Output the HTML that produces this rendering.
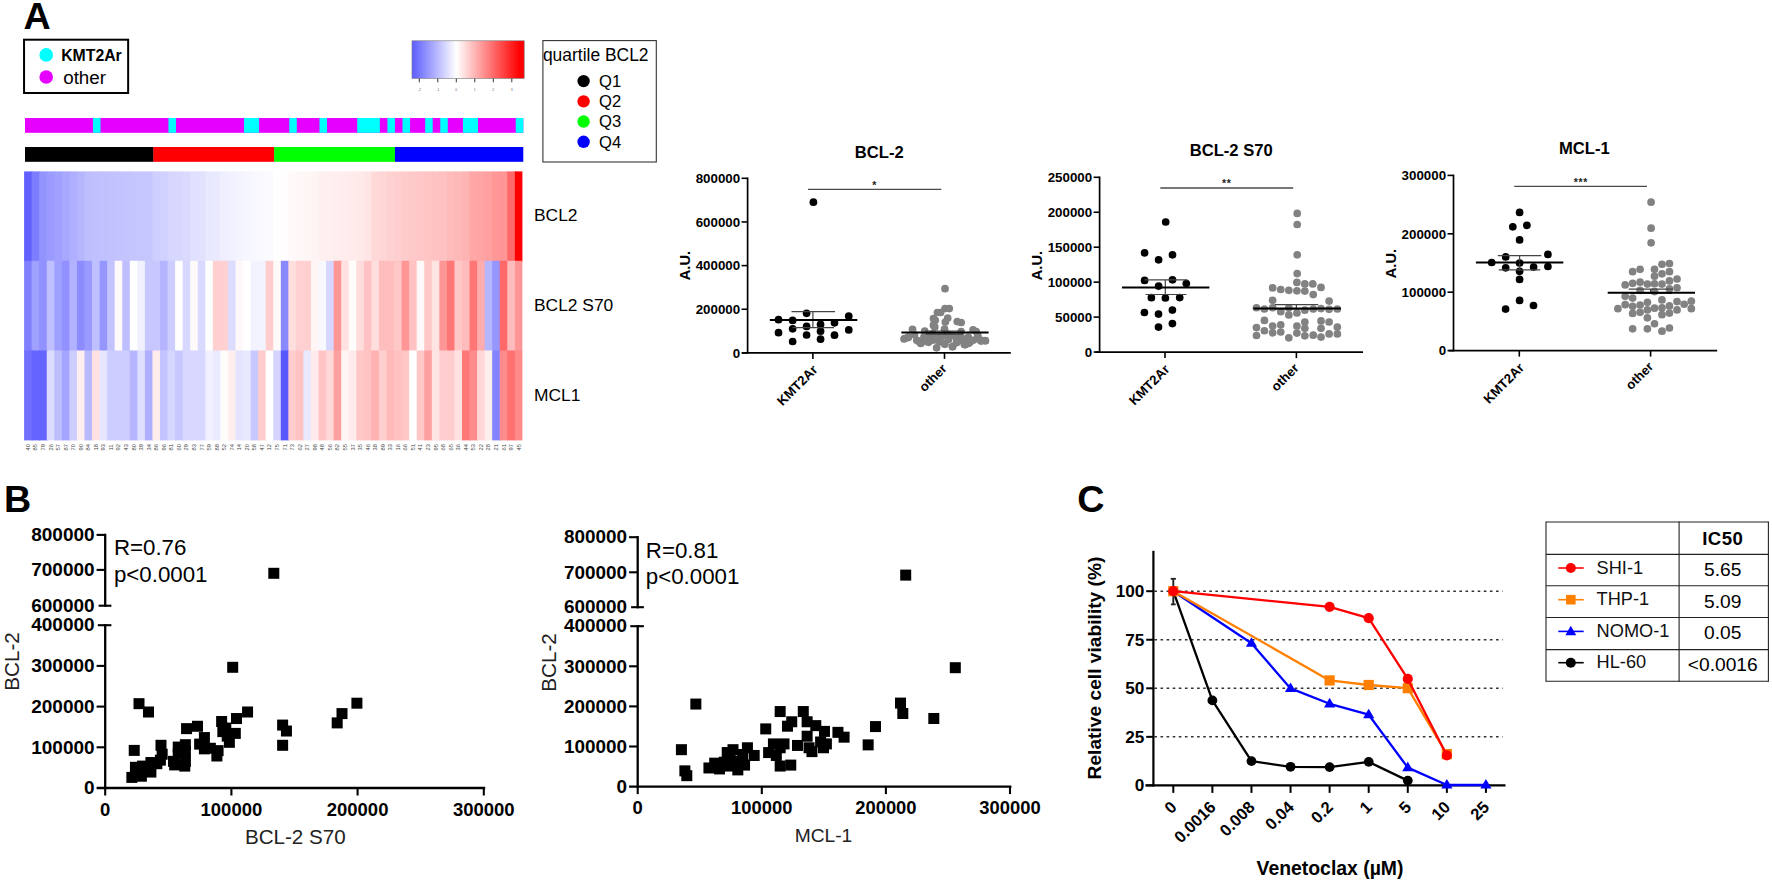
<!DOCTYPE html>
<html lang="en">
<head>
<meta charset="utf-8">
<title>Figure</title>
<style>
html,body{margin:0;padding:0;background:#fff;}
body{width:1772px;height:883px;overflow:hidden;}
svg{display:block;font-family:"Liberation Sans",Arial,Helvetica,sans-serif;fill:#000;}
</style>
</head>
<body>
<svg width="1772" height="883" viewBox="0 0 1772 883">
<rect x="0" y="0" width="1772" height="883" fill="#ffffff"/>
<g id="panelA">
<text x="23.4" y="29.1" font-size="37.7" font-weight="bold">A</text>
<rect x="24.05" y="39.7" width="104.1" height="53.3" fill="none" stroke="#000" stroke-width="2"/>
<circle cx="46.2" cy="54.9" r="6.8" fill="#00ffff"/>
<circle cx="46.2" cy="77" r="6.8" fill="#e600ff"/>
<text x="61.2" y="61.2" font-size="15.8" font-weight="bold">KMT2Ar</text>
<text x="63.2" y="83.8" font-size="18.8">other</text>
<defs><linearGradient id="ck" x1="0" x2="1" y1="0" y2="0"><stop offset="0" stop-color="#5c5cff"/><stop offset="0.395" stop-color="#ffffff"/><stop offset="0.96" stop-color="#ff0000"/><stop offset="1" stop-color="#ff0000"/></linearGradient></defs>
<rect x="412" y="40.8" width="112.2" height="37.6" fill="url(#ck)" stroke="#777" stroke-width="0.6"/>
<line x1="419.3" y1="78.5" x2="419.3" y2="82.3" stroke="#333" stroke-width="1"/>
<text x="419.3" y="91.4" font-size="3.4" text-anchor="middle" fill="#666">-2</text>
<line x1="437.8" y1="78.5" x2="437.8" y2="82.3" stroke="#333" stroke-width="1"/>
<text x="437.8" y="91.4" font-size="3.4" text-anchor="middle" fill="#666">-1</text>
<line x1="456.3" y1="78.5" x2="456.3" y2="82.3" stroke="#333" stroke-width="1"/>
<text x="456.3" y="91.4" font-size="3.4" text-anchor="middle" fill="#666">0</text>
<line x1="474.8" y1="78.5" x2="474.8" y2="82.3" stroke="#333" stroke-width="1"/>
<text x="474.8" y="91.4" font-size="3.4" text-anchor="middle" fill="#666">1</text>
<line x1="493.3" y1="78.5" x2="493.3" y2="82.3" stroke="#333" stroke-width="1"/>
<text x="493.3" y="91.4" font-size="3.4" text-anchor="middle" fill="#666">2</text>
<line x1="511.8" y1="78.5" x2="511.8" y2="82.3" stroke="#333" stroke-width="1"/>
<text x="511.8" y="91.4" font-size="3.4" text-anchor="middle" fill="#666">3</text>
<rect x="542.9" y="40.6" width="113.4" height="121.4" fill="none" stroke="#333" stroke-width="1.1"/>
<text x="542.9" y="61.4" font-size="17.45">quartile BCL2</text>
<circle cx="583.6" cy="81.1" r="6.2" fill="#000"/>
<text x="599" y="86.9" font-size="16.6">Q1</text>
<circle cx="583.6" cy="101.33" r="6.2" fill="#ff0000"/>
<text x="599" y="107.13" font-size="16.6">Q2</text>
<circle cx="583.6" cy="121.56" r="6.2" fill="#00ff00"/>
<text x="599" y="127.36" font-size="16.6">Q3</text>
<circle cx="583.6" cy="141.79" r="6.2" fill="#0000ff"/>
<text x="599" y="147.59" font-size="16.6">Q4</text>
<rect x="25" y="118" width="498.3" height="14.8" fill="#e600ff"/>
<rect x="92.95" y="118" width="7.55" height="14.8" fill="#00ffff"/>
<rect x="168.45" y="118" width="7.55" height="14.8" fill="#00ffff"/>
<rect x="243.95" y="118" width="15.1" height="14.8" fill="#00ffff"/>
<rect x="289.25" y="118" width="7.55" height="14.8" fill="#00ffff"/>
<rect x="319.45" y="118" width="7.55" height="14.8" fill="#00ffff"/>
<rect x="357.2" y="118" width="22.65" height="14.8" fill="#00ffff"/>
<rect x="387.4" y="118" width="7.55" height="14.8" fill="#00ffff"/>
<rect x="402.5" y="118" width="7.55" height="14.8" fill="#00ffff"/>
<rect x="425.15" y="118" width="7.55" height="14.8" fill="#00ffff"/>
<rect x="440.25" y="118" width="7.55" height="14.8" fill="#00ffff"/>
<rect x="462.9" y="118" width="15.1" height="14.8" fill="#00ffff"/>
<rect x="515.75" y="118" width="7.55" height="14.8" fill="#00ffff"/>
<rect x="25" y="147" width="128.65" height="14.8" fill="#000"/>
<rect x="153.35" y="147" width="121.1" height="14.8" fill="#ff0000"/>
<rect x="274.15" y="147" width="121.1" height="14.8" fill="#00ff00"/>
<rect x="394.95" y="147" width="128.35" height="14.8" fill="#0000ff"/>
<g>
<rect x="24.1" y="171.4" width="8.55" height="90.4" fill="#6060ff"/>
<rect x="31.65" y="171.4" width="8.55" height="90.4" fill="#7d7dff"/>
<rect x="39.2" y="171.4" width="8.55" height="90.4" fill="#9494ff"/>
<rect x="46.75" y="171.4" width="8.55" height="90.4" fill="#9b9bff"/>
<rect x="54.3" y="171.4" width="8.55" height="90.4" fill="#a0a0ff"/>
<rect x="61.85" y="171.4" width="8.55" height="90.4" fill="#a8a8ff"/>
<rect x="69.4" y="171.4" width="8.55" height="90.4" fill="#afafff"/>
<rect x="76.95" y="171.4" width="8.55" height="90.4" fill="#b6b6ff"/>
<rect x="84.5" y="171.4" width="8.55" height="90.4" fill="#bebeff"/>
<rect x="92.05" y="171.4" width="8.55" height="90.4" fill="#c0c0ff"/>
<rect x="99.6" y="171.4" width="8.55" height="90.4" fill="#c1c1ff"/>
<rect x="107.15" y="171.4" width="8.55" height="90.4" fill="#c2c2ff"/>
<rect x="114.7" y="171.4" width="8.55" height="90.4" fill="#c3c3ff"/>
<rect x="122.25" y="171.4" width="8.55" height="90.4" fill="#c4c4ff"/>
<rect x="129.8" y="171.4" width="8.55" height="90.4" fill="#c5c5ff"/>
<rect x="137.35" y="171.4" width="8.55" height="90.4" fill="#c6c6ff"/>
<rect x="144.9" y="171.4" width="8.55" height="90.4" fill="#c7c7ff"/>
<rect x="152.45" y="171.4" width="8.55" height="90.4" fill="#cfcfff"/>
<rect x="160" y="171.4" width="8.55" height="90.4" fill="#d1d1ff"/>
<rect x="167.55" y="171.4" width="8.55" height="90.4" fill="#d6d6ff"/>
<rect x="175.1" y="171.4" width="8.55" height="90.4" fill="#d8d8ff"/>
<rect x="182.65" y="171.4" width="8.55" height="90.4" fill="#dadaff"/>
<rect x="190.2" y="171.4" width="8.55" height="90.4" fill="#e0e0ff"/>
<rect x="197.75" y="171.4" width="8.55" height="90.4" fill="#e2e2ff"/>
<rect x="205.3" y="171.4" width="8.55" height="90.4" fill="#e8e8ff"/>
<rect x="212.85" y="171.4" width="8.55" height="90.4" fill="#eaeaff"/>
<rect x="220.4" y="171.4" width="8.55" height="90.4" fill="#efefff"/>
<rect x="227.95" y="171.4" width="8.55" height="90.4" fill="#f1f1ff"/>
<rect x="235.5" y="171.4" width="8.55" height="90.4" fill="#f4f4ff"/>
<rect x="243.05" y="171.4" width="8.55" height="90.4" fill="#f6f6ff"/>
<rect x="250.6" y="171.4" width="8.55" height="90.4" fill="#f8f8ff"/>
<rect x="258.15" y="171.4" width="8.55" height="90.4" fill="#f9f9ff"/>
<rect x="265.7" y="171.4" width="8.55" height="90.4" fill="#fafaff"/>
<rect x="273.25" y="171.4" width="8.55" height="90.4" fill="#ffffff"/>
<rect x="280.8" y="171.4" width="8.55" height="90.4" fill="#fffdfd"/>
<rect x="288.35" y="171.4" width="8.55" height="90.4" fill="#fffafa"/>
<rect x="295.9" y="171.4" width="8.55" height="90.4" fill="#fff8f8"/>
<rect x="303.45" y="171.4" width="8.55" height="90.4" fill="#fff6f6"/>
<rect x="311" y="171.4" width="8.55" height="90.4" fill="#fff4f4"/>
<rect x="318.55" y="171.4" width="8.55" height="90.4" fill="#fff0f0"/>
<rect x="326.1" y="171.4" width="8.55" height="90.4" fill="#ffefef"/>
<rect x="333.65" y="171.4" width="8.55" height="90.4" fill="#ffeeee"/>
<rect x="341.2" y="171.4" width="8.55" height="90.4" fill="#ffecec"/>
<rect x="348.75" y="171.4" width="8.55" height="90.4" fill="#ffebeb"/>
<rect x="356.3" y="171.4" width="8.55" height="90.4" fill="#ffeaea"/>
<rect x="363.85" y="171.4" width="8.55" height="90.4" fill="#ffe6e6"/>
<rect x="371.4" y="171.4" width="8.55" height="90.4" fill="#ffd8d8"/>
<rect x="378.95" y="171.4" width="8.55" height="90.4" fill="#ffd6d6"/>
<rect x="386.5" y="171.4" width="8.55" height="90.4" fill="#ffd2d2"/>
<rect x="394.05" y="171.4" width="8.55" height="90.4" fill="#ffcece"/>
<rect x="401.6" y="171.4" width="8.55" height="90.4" fill="#ffcccc"/>
<rect x="409.15" y="171.4" width="8.55" height="90.4" fill="#ffc9c9"/>
<rect x="416.7" y="171.4" width="8.55" height="90.4" fill="#ffc7c7"/>
<rect x="424.25" y="171.4" width="8.55" height="90.4" fill="#ffc4c4"/>
<rect x="431.8" y="171.4" width="8.55" height="90.4" fill="#ffc3c3"/>
<rect x="439.35" y="171.4" width="8.55" height="90.4" fill="#ffc1c1"/>
<rect x="446.9" y="171.4" width="8.55" height="90.4" fill="#ffbaba"/>
<rect x="454.45" y="171.4" width="8.55" height="90.4" fill="#ffb8b8"/>
<rect x="462" y="171.4" width="8.55" height="90.4" fill="#ffb4b4"/>
<rect x="469.55" y="171.4" width="8.55" height="90.4" fill="#ffa6a6"/>
<rect x="477.1" y="171.4" width="8.55" height="90.4" fill="#ffa4a4"/>
<rect x="484.65" y="171.4" width="8.55" height="90.4" fill="#ffa0a0"/>
<rect x="492.2" y="171.4" width="8.55" height="90.4" fill="#ff9797"/>
<rect x="499.75" y="171.4" width="8.55" height="90.4" fill="#ff9595"/>
<rect x="507.3" y="171.4" width="8.55" height="90.4" fill="#ff6969"/>
<rect x="514.85" y="171.4" width="7.55" height="90.4" fill="#ff0000"/>
<rect x="24.1" y="260.8" width="8.55" height="90.7" fill="#8080ff"/>
<rect x="31.65" y="260.8" width="8.55" height="90.7" fill="#a0a0ff"/>
<rect x="39.2" y="260.8" width="8.55" height="90.7" fill="#9191ff"/>
<rect x="46.75" y="260.8" width="8.55" height="90.7" fill="#c0c0ff"/>
<rect x="54.3" y="260.8" width="8.55" height="90.7" fill="#a0a0ff"/>
<rect x="61.85" y="260.8" width="8.55" height="90.7" fill="#9191ff"/>
<rect x="69.4" y="260.8" width="8.55" height="90.7" fill="#b2b2ff"/>
<rect x="76.95" y="260.8" width="8.55" height="90.7" fill="#8c8cff"/>
<rect x="84.5" y="260.8" width="8.55" height="90.7" fill="#9b9bff"/>
<rect x="92.05" y="260.8" width="8.55" height="90.7" fill="#c0c0ff"/>
<rect x="99.6" y="260.8" width="8.55" height="90.7" fill="#9696ff"/>
<rect x="107.15" y="260.8" width="8.55" height="90.7" fill="#c3c3ff"/>
<rect x="114.7" y="260.8" width="8.55" height="90.7" fill="#fffafa"/>
<rect x="122.25" y="260.8" width="8.55" height="90.7" fill="#bebeff"/>
<rect x="129.8" y="260.8" width="8.55" height="90.7" fill="#ffffff"/>
<rect x="137.35" y="260.8" width="8.55" height="90.7" fill="#f0f0ff"/>
<rect x="144.9" y="260.8" width="8.55" height="90.7" fill="#c8c8ff"/>
<rect x="152.45" y="260.8" width="8.55" height="90.7" fill="#c8c8ff"/>
<rect x="160" y="260.8" width="8.55" height="90.7" fill="#b4b4ff"/>
<rect x="167.55" y="260.8" width="8.55" height="90.7" fill="#cdcdff"/>
<rect x="175.1" y="260.8" width="8.55" height="90.7" fill="#ffffff"/>
<rect x="182.65" y="260.8" width="8.55" height="90.7" fill="#d7d7ff"/>
<rect x="190.2" y="260.8" width="8.55" height="90.7" fill="#fffafa"/>
<rect x="197.75" y="260.8" width="8.55" height="90.7" fill="#dadaff"/>
<rect x="205.3" y="260.8" width="8.55" height="90.7" fill="#ffffff"/>
<rect x="212.85" y="260.8" width="8.55" height="90.7" fill="#ffd0d0"/>
<rect x="220.4" y="260.8" width="8.55" height="90.7" fill="#ffd0d0"/>
<rect x="227.95" y="260.8" width="8.55" height="90.7" fill="#dcdcff"/>
<rect x="235.5" y="260.8" width="8.55" height="90.7" fill="#fff8f8"/>
<rect x="243.05" y="260.8" width="8.55" height="90.7" fill="#ffffff"/>
<rect x="250.6" y="260.8" width="8.55" height="90.7" fill="#f3f3ff"/>
<rect x="258.15" y="260.8" width="8.55" height="90.7" fill="#f3f3ff"/>
<rect x="265.7" y="260.8" width="8.55" height="90.7" fill="#ffcdcd"/>
<rect x="273.25" y="260.8" width="8.55" height="90.7" fill="#fffafa"/>
<rect x="280.8" y="260.8" width="8.55" height="90.7" fill="#8888ff"/>
<rect x="288.35" y="260.8" width="8.55" height="90.7" fill="#ffdede"/>
<rect x="295.9" y="260.8" width="8.55" height="90.7" fill="#ffd0d0"/>
<rect x="303.45" y="260.8" width="8.55" height="90.7" fill="#ffd0d0"/>
<rect x="311" y="260.8" width="8.55" height="90.7" fill="#fff5f5"/>
<rect x="318.55" y="260.8" width="8.55" height="90.7" fill="#f8f8ff"/>
<rect x="326.1" y="260.8" width="8.55" height="90.7" fill="#d6d6ff"/>
<rect x="333.65" y="260.8" width="8.55" height="90.7" fill="#ff9696"/>
<rect x="341.2" y="260.8" width="8.55" height="90.7" fill="#ffe1e1"/>
<rect x="348.75" y="260.8" width="8.55" height="90.7" fill="#fffcfc"/>
<rect x="356.3" y="260.8" width="8.55" height="90.7" fill="#ffdddd"/>
<rect x="363.85" y="260.8" width="8.55" height="90.7" fill="#ffc3c3"/>
<rect x="371.4" y="260.8" width="8.55" height="90.7" fill="#ffdede"/>
<rect x="378.95" y="260.8" width="8.55" height="90.7" fill="#ffbebe"/>
<rect x="386.5" y="260.8" width="8.55" height="90.7" fill="#ffbebe"/>
<rect x="394.05" y="260.8" width="8.55" height="90.7" fill="#ffc8c8"/>
<rect x="401.6" y="260.8" width="8.55" height="90.7" fill="#ff9696"/>
<rect x="409.15" y="260.8" width="8.55" height="90.7" fill="#ffc3c3"/>
<rect x="416.7" y="260.8" width="8.55" height="90.7" fill="#fffafa"/>
<rect x="424.25" y="260.8" width="8.55" height="90.7" fill="#ffc8c8"/>
<rect x="431.8" y="260.8" width="8.55" height="90.7" fill="#ffe4e4"/>
<rect x="439.35" y="260.8" width="8.55" height="90.7" fill="#ff9696"/>
<rect x="446.9" y="260.8" width="8.55" height="90.7" fill="#ff7676"/>
<rect x="454.45" y="260.8" width="8.55" height="90.7" fill="#ffc8c8"/>
<rect x="462" y="260.8" width="8.55" height="90.7" fill="#ffbcbc"/>
<rect x="469.55" y="260.8" width="8.55" height="90.7" fill="#ff7676"/>
<rect x="477.1" y="260.8" width="8.55" height="90.7" fill="#ffacac"/>
<rect x="484.65" y="260.8" width="8.55" height="90.7" fill="#b6b6ff"/>
<rect x="492.2" y="260.8" width="8.55" height="90.7" fill="#9696ff"/>
<rect x="499.75" y="260.8" width="8.55" height="90.7" fill="#ff6969"/>
<rect x="507.3" y="260.8" width="8.55" height="90.7" fill="#ffbcbc"/>
<rect x="514.85" y="260.8" width="7.55" height="90.7" fill="#ff9696"/>
<rect x="24.1" y="350.5" width="8.55" height="89.9" fill="#7070ff"/>
<rect x="31.65" y="350.5" width="8.55" height="89.9" fill="#6464ff"/>
<rect x="39.2" y="350.5" width="8.55" height="89.9" fill="#6464ff"/>
<rect x="46.75" y="350.5" width="8.55" height="89.9" fill="#dcdcff"/>
<rect x="54.3" y="350.5" width="8.55" height="89.9" fill="#bebeff"/>
<rect x="61.85" y="350.5" width="8.55" height="89.9" fill="#a5a5ff"/>
<rect x="69.4" y="350.5" width="8.55" height="89.9" fill="#cdcdff"/>
<rect x="76.95" y="350.5" width="8.55" height="89.9" fill="#ffeeee"/>
<rect x="84.5" y="350.5" width="8.55" height="89.9" fill="#b9b9ff"/>
<rect x="92.05" y="350.5" width="8.55" height="89.9" fill="#ffe1e1"/>
<rect x="99.6" y="350.5" width="8.55" height="89.9" fill="#e6e6ff"/>
<rect x="107.15" y="350.5" width="8.55" height="89.9" fill="#cdcdff"/>
<rect x="114.7" y="350.5" width="8.55" height="89.9" fill="#cdcdff"/>
<rect x="122.25" y="350.5" width="8.55" height="89.9" fill="#cdcdff"/>
<rect x="129.8" y="350.5" width="8.55" height="89.9" fill="#b6b6ff"/>
<rect x="137.35" y="350.5" width="8.55" height="89.9" fill="#dedeff"/>
<rect x="144.9" y="350.5" width="8.55" height="89.9" fill="#afafff"/>
<rect x="152.45" y="350.5" width="8.55" height="89.9" fill="#ffebeb"/>
<rect x="160" y="350.5" width="8.55" height="89.9" fill="#c3c3ff"/>
<rect x="167.55" y="350.5" width="8.55" height="89.9" fill="#d7d7ff"/>
<rect x="175.1" y="350.5" width="8.55" height="89.9" fill="#c8c8ff"/>
<rect x="182.65" y="350.5" width="8.55" height="89.9" fill="#d7d7ff"/>
<rect x="190.2" y="350.5" width="8.55" height="89.9" fill="#d7d7ff"/>
<rect x="197.75" y="350.5" width="8.55" height="89.9" fill="#d7d7ff"/>
<rect x="205.3" y="350.5" width="8.55" height="89.9" fill="#f0f0ff"/>
<rect x="212.85" y="350.5" width="8.55" height="89.9" fill="#ebebff"/>
<rect x="220.4" y="350.5" width="8.55" height="89.9" fill="#fffcfc"/>
<rect x="227.95" y="350.5" width="8.55" height="89.9" fill="#ffeeee"/>
<rect x="235.5" y="350.5" width="8.55" height="89.9" fill="#e4e4ff"/>
<rect x="243.05" y="350.5" width="8.55" height="89.9" fill="#e8e8ff"/>
<rect x="250.6" y="350.5" width="8.55" height="89.9" fill="#c8c8ff"/>
<rect x="258.15" y="350.5" width="8.55" height="89.9" fill="#ffcdcd"/>
<rect x="265.7" y="350.5" width="8.55" height="89.9" fill="#ffffff"/>
<rect x="273.25" y="350.5" width="8.55" height="89.9" fill="#d4d4ff"/>
<rect x="280.8" y="350.5" width="8.55" height="89.9" fill="#5858ff"/>
<rect x="288.35" y="350.5" width="8.55" height="89.9" fill="#ffcdcd"/>
<rect x="295.9" y="350.5" width="8.55" height="89.9" fill="#ffc3c3"/>
<rect x="303.45" y="350.5" width="8.55" height="89.9" fill="#e8e8ff"/>
<rect x="311" y="350.5" width="8.55" height="89.9" fill="#ffebeb"/>
<rect x="318.55" y="350.5" width="8.55" height="89.9" fill="#ffc3c3"/>
<rect x="326.1" y="350.5" width="8.55" height="89.9" fill="#ffd7d7"/>
<rect x="333.65" y="350.5" width="8.55" height="89.9" fill="#ffa0a0"/>
<rect x="341.2" y="350.5" width="8.55" height="89.9" fill="#fff5f5"/>
<rect x="348.75" y="350.5" width="8.55" height="89.9" fill="#ffebeb"/>
<rect x="356.3" y="350.5" width="8.55" height="89.9" fill="#ffc7c7"/>
<rect x="363.85" y="350.5" width="8.55" height="89.9" fill="#ffc3c3"/>
<rect x="371.4" y="350.5" width="8.55" height="89.9" fill="#ffb2b2"/>
<rect x="378.95" y="350.5" width="8.55" height="89.9" fill="#ffcece"/>
<rect x="386.5" y="350.5" width="8.55" height="89.9" fill="#ffb9b9"/>
<rect x="394.05" y="350.5" width="8.55" height="89.9" fill="#ffc0c0"/>
<rect x="401.6" y="350.5" width="8.55" height="89.9" fill="#ffc6c6"/>
<rect x="409.15" y="350.5" width="8.55" height="89.9" fill="#ffffff"/>
<rect x="416.7" y="350.5" width="8.55" height="89.9" fill="#ffc8c8"/>
<rect x="424.25" y="350.5" width="8.55" height="89.9" fill="#ffa0a0"/>
<rect x="431.8" y="350.5" width="8.55" height="89.9" fill="#ffe4e4"/>
<rect x="439.35" y="350.5" width="8.55" height="89.9" fill="#ffcdcd"/>
<rect x="446.9" y="350.5" width="8.55" height="89.9" fill="#ffcdcd"/>
<rect x="454.45" y="350.5" width="8.55" height="89.9" fill="#ffe1e1"/>
<rect x="462" y="350.5" width="8.55" height="89.9" fill="#ff7878"/>
<rect x="469.55" y="350.5" width="8.55" height="89.9" fill="#ff8c8c"/>
<rect x="477.1" y="350.5" width="8.55" height="89.9" fill="#ffd7d7"/>
<rect x="484.65" y="350.5" width="8.55" height="89.9" fill="#ffeeee"/>
<rect x="492.2" y="350.5" width="8.55" height="89.9" fill="#8484ff"/>
<rect x="499.75" y="350.5" width="8.55" height="89.9" fill="#ff8c8c"/>
<rect x="507.3" y="350.5" width="8.55" height="89.9" fill="#ff7070"/>
<rect x="514.85" y="350.5" width="7.55" height="89.9" fill="#ff8a8a"/>
</g>
<text x="534" y="220.7" font-size="17.4">BCL2</text>
<text x="534" y="311.2" font-size="17.4">BCL2 S70</text>
<text x="534" y="401.1" font-size="17.4">MCL1</text>
<text transform="translate(29.88 450.5) rotate(-90)" font-size="5.7" fill="#444">40</text>
<text transform="translate(37.43 450.5) rotate(-90)" font-size="5.7" fill="#444">85</text>
<text transform="translate(44.98 450.5) rotate(-90)" font-size="5.7" fill="#444">79</text>
<text transform="translate(52.52 450.5) rotate(-90)" font-size="5.7" fill="#444">26</text>
<text transform="translate(60.07 450.5) rotate(-90)" font-size="5.7" fill="#444">57</text>
<text transform="translate(67.62 450.5) rotate(-90)" font-size="5.7" fill="#444">87</text>
<text transform="translate(75.18 450.5) rotate(-90)" font-size="5.7" fill="#444">70</text>
<text transform="translate(82.73 450.5) rotate(-90)" font-size="5.7" fill="#444">90</text>
<text transform="translate(90.28 450.5) rotate(-90)" font-size="5.7" fill="#444">84</text>
<text transform="translate(97.83 450.5) rotate(-90)" font-size="5.7" fill="#444">18</text>
<text transform="translate(105.38 450.5) rotate(-90)" font-size="5.7" fill="#444">93</text>
<text transform="translate(112.93 450.5) rotate(-90)" font-size="5.7" fill="#444">11</text>
<text transform="translate(120.47 450.5) rotate(-90)" font-size="5.7" fill="#444">92</text>
<text transform="translate(128.03 450.5) rotate(-90)" font-size="5.7" fill="#444">43</text>
<text transform="translate(135.58 450.5) rotate(-90)" font-size="5.7" fill="#444">80</text>
<text transform="translate(143.12 450.5) rotate(-90)" font-size="5.7" fill="#444">39</text>
<text transform="translate(150.68 450.5) rotate(-90)" font-size="5.7" fill="#444">34</text>
<text transform="translate(158.22 450.5) rotate(-90)" font-size="5.7" fill="#444">86</text>
<text transform="translate(165.78 450.5) rotate(-90)" font-size="5.7" fill="#444">96</text>
<text transform="translate(173.32 450.5) rotate(-90)" font-size="5.7" fill="#444">81</text>
<text transform="translate(180.88 450.5) rotate(-90)" font-size="5.7" fill="#444">60</text>
<text transform="translate(188.42 450.5) rotate(-90)" font-size="5.7" fill="#444">29</text>
<text transform="translate(195.97 450.5) rotate(-90)" font-size="5.7" fill="#444">83</text>
<text transform="translate(203.53 450.5) rotate(-90)" font-size="5.7" fill="#444">77</text>
<text transform="translate(211.07 450.5) rotate(-90)" font-size="5.7" fill="#444">59</text>
<text transform="translate(218.62 450.5) rotate(-90)" font-size="5.7" fill="#444">88</text>
<text transform="translate(226.17 450.5) rotate(-90)" font-size="5.7" fill="#444">52</text>
<text transform="translate(233.72 450.5) rotate(-90)" font-size="5.7" fill="#444">74</text>
<text transform="translate(241.28 450.5) rotate(-90)" font-size="5.7" fill="#444">14</text>
<text transform="translate(248.82 450.5) rotate(-90)" font-size="5.7" fill="#444">20</text>
<text transform="translate(256.38 450.5) rotate(-90)" font-size="5.7" fill="#444">58</text>
<text transform="translate(263.92 450.5) rotate(-90)" font-size="5.7" fill="#444">47</text>
<text transform="translate(271.47 450.5) rotate(-90)" font-size="5.7" fill="#444">12</text>
<text transform="translate(279.02 450.5) rotate(-90)" font-size="5.7" fill="#444">75</text>
<text transform="translate(286.57 450.5) rotate(-90)" font-size="5.7" fill="#444">71</text>
<text transform="translate(294.12 450.5) rotate(-90)" font-size="5.7" fill="#444">73</text>
<text transform="translate(301.68 450.5) rotate(-90)" font-size="5.7" fill="#444">62</text>
<text transform="translate(309.22 450.5) rotate(-90)" font-size="5.7" fill="#444">27</text>
<text transform="translate(316.77 450.5) rotate(-90)" font-size="5.7" fill="#444">98</text>
<text transform="translate(324.32 450.5) rotate(-90)" font-size="5.7" fill="#444">48</text>
<text transform="translate(331.88 450.5) rotate(-90)" font-size="5.7" fill="#444">56</text>
<text transform="translate(339.43 450.5) rotate(-90)" font-size="5.7" fill="#444">82</text>
<text transform="translate(346.97 450.5) rotate(-90)" font-size="5.7" fill="#444">55</text>
<text transform="translate(354.52 450.5) rotate(-90)" font-size="5.7" fill="#444">37</text>
<text transform="translate(362.07 450.5) rotate(-90)" font-size="5.7" fill="#444">35</text>
<text transform="translate(369.62 450.5) rotate(-90)" font-size="5.7" fill="#444">46</text>
<text transform="translate(377.18 450.5) rotate(-90)" font-size="5.7" fill="#444">38</text>
<text transform="translate(384.72 450.5) rotate(-90)" font-size="5.7" fill="#444">89</text>
<text transform="translate(392.27 450.5) rotate(-90)" font-size="5.7" fill="#444">33</text>
<text transform="translate(399.82 450.5) rotate(-90)" font-size="5.7" fill="#444">16</text>
<text transform="translate(407.38 450.5) rotate(-90)" font-size="5.7" fill="#444">66</text>
<text transform="translate(414.93 450.5) rotate(-90)" font-size="5.7" fill="#444">51</text>
<text transform="translate(422.47 450.5) rotate(-90)" font-size="5.7" fill="#444">41</text>
<text transform="translate(430.02 450.5) rotate(-90)" font-size="5.7" fill="#444">23</text>
<text transform="translate(437.57 450.5) rotate(-90)" font-size="5.7" fill="#444">95</text>
<text transform="translate(445.12 450.5) rotate(-90)" font-size="5.7" fill="#444">68</text>
<text transform="translate(452.68 450.5) rotate(-90)" font-size="5.7" fill="#444">65</text>
<text transform="translate(460.22 450.5) rotate(-90)" font-size="5.7" fill="#444">36</text>
<text transform="translate(467.77 450.5) rotate(-90)" font-size="5.7" fill="#444">44</text>
<text transform="translate(475.32 450.5) rotate(-90)" font-size="5.7" fill="#444">53</text>
<text transform="translate(482.88 450.5) rotate(-90)" font-size="5.7" fill="#444">22</text>
<text transform="translate(490.43 450.5) rotate(-90)" font-size="5.7" fill="#444">28</text>
<text transform="translate(497.97 450.5) rotate(-90)" font-size="5.7" fill="#444">21</text>
<text transform="translate(505.52 450.5) rotate(-90)" font-size="5.7" fill="#444">61</text>
<text transform="translate(513.08 450.5) rotate(-90)" font-size="5.7" fill="#444">97</text>
<text transform="translate(520.62 450.5) rotate(-90)" font-size="5.7" fill="#444">45</text>
</g>
<g id="dots">
<line x1="747.6" y1="177.5" x2="747.6" y2="353.7" stroke="#000" stroke-width="1.7"/>
<line x1="741.9" y1="352.9" x2="1010.8" y2="352.9" stroke="#000" stroke-width="1.7"/>
<line x1="741.6" y1="178.3" x2="747.6" y2="178.3" stroke="#000" stroke-width="1.6"/>
<text x="740.2" y="183.05" font-size="13.35" font-weight="bold" text-anchor="end">800000</text>
<line x1="741.6" y1="221.95" x2="747.6" y2="221.95" stroke="#000" stroke-width="1.6"/>
<text x="740.2" y="226.7" font-size="13.35" font-weight="bold" text-anchor="end">600000</text>
<line x1="741.6" y1="265.6" x2="747.6" y2="265.6" stroke="#000" stroke-width="1.6"/>
<text x="740.2" y="270.35" font-size="13.35" font-weight="bold" text-anchor="end">400000</text>
<line x1="741.6" y1="309.25" x2="747.6" y2="309.25" stroke="#000" stroke-width="1.6"/>
<text x="740.2" y="314" font-size="13.35" font-weight="bold" text-anchor="end">200000</text>
<line x1="741.6" y1="352.9" x2="747.6" y2="352.9" stroke="#000" stroke-width="1.6"/>
<text x="740.2" y="357.65" font-size="13.35" font-weight="bold" text-anchor="end">0</text>
<line x1="812.9" y1="352.9" x2="812.9" y2="358.9" stroke="#000" stroke-width="1.6"/>
<line x1="944.5" y1="352.9" x2="944.5" y2="358.9" stroke="#000" stroke-width="1.6"/>
<text x="879.3" y="157.5" font-size="16.6" font-weight="bold" text-anchor="middle">BCL-2</text>
<text transform="translate(690.3 265.6) rotate(-90)" font-size="14.7" font-weight="bold" text-anchor="middle">A.U.</text>
<line x1="808" y1="189.3" x2="941.3" y2="189.3" stroke="#4a4a4a" stroke-width="1.3"/>
<text x="874.6" y="188.5" font-size="10.5" font-weight="bold" text-anchor="middle" fill="#222" letter-spacing="0.6">*</text>
<circle cx="945.01" cy="288.72" r="3.85" fill="#828282"/>
<circle cx="945.01" cy="308.54" r="3.85" fill="#828282"/>
<circle cx="949.29" cy="308.54" r="3.85" fill="#828282"/>
<circle cx="937.4" cy="312.5" r="3.85" fill="#828282"/>
<circle cx="940.57" cy="312.5" r="3.85" fill="#828282"/>
<circle cx="933.44" cy="318.53" r="3.85" fill="#828282"/>
<circle cx="947.71" cy="318.05" r="3.85" fill="#828282"/>
<circle cx="945.33" cy="322.02" r="3.85" fill="#828282"/>
<circle cx="957.22" cy="321.54" r="3.85" fill="#828282"/>
<circle cx="961.18" cy="322.49" r="3.85" fill="#828282"/>
<circle cx="933.44" cy="325.19" r="3.85" fill="#828282"/>
<circle cx="912.51" cy="329.47" r="3.85" fill="#828282"/>
<circle cx="924.72" cy="331.05" r="3.85" fill="#828282"/>
<circle cx="944.53" cy="329.15" r="3.85" fill="#828282"/>
<circle cx="961.18" cy="331.53" r="3.85" fill="#828282"/>
<circle cx="973.07" cy="329.94" r="3.85" fill="#828282"/>
<circle cx="976.25" cy="331.53" r="3.85" fill="#828282"/>
<circle cx="904.1" cy="338.98" r="3.85" fill="#828282"/>
<circle cx="908.07" cy="337.08" r="3.85" fill="#828282"/>
<circle cx="916.79" cy="340.25" r="3.85" fill="#828282"/>
<circle cx="920.75" cy="343.42" r="3.85" fill="#828282"/>
<circle cx="924.72" cy="341.04" r="3.85" fill="#828282"/>
<circle cx="928.68" cy="336.29" r="3.85" fill="#828282"/>
<circle cx="932.64" cy="340.25" r="3.85" fill="#828282"/>
<circle cx="936.61" cy="347.86" r="3.85" fill="#828282"/>
<circle cx="936.61" cy="337.87" r="3.85" fill="#828282"/>
<circle cx="940.57" cy="341.84" r="3.85" fill="#828282"/>
<circle cx="944.53" cy="343.42" r="3.85" fill="#828282"/>
<circle cx="944.53" cy="335.49" r="3.85" fill="#828282"/>
<circle cx="948.5" cy="339.46" r="3.85" fill="#828282"/>
<circle cx="952.46" cy="346.59" r="3.85" fill="#828282"/>
<circle cx="952.46" cy="335.49" r="3.85" fill="#828282"/>
<circle cx="956.43" cy="342.63" r="3.85" fill="#828282"/>
<circle cx="960.39" cy="340.25" r="3.85" fill="#828282"/>
<circle cx="960.39" cy="335.49" r="3.85" fill="#828282"/>
<circle cx="964.35" cy="344.21" r="3.85" fill="#828282"/>
<circle cx="968.32" cy="343.42" r="3.85" fill="#828282"/>
<circle cx="968.32" cy="337.08" r="3.85" fill="#828282"/>
<circle cx="973.07" cy="340.25" r="3.85" fill="#828282"/>
<circle cx="977.04" cy="338.66" r="3.85" fill="#828282"/>
<circle cx="981" cy="341.04" r="3.85" fill="#828282"/>
<circle cx="985.44" cy="340.73" r="3.85" fill="#828282"/>
<circle cx="977.83" cy="335.49" r="3.85" fill="#828282"/>
<circle cx="914.41" cy="334.7" r="3.85" fill="#828282"/>
<circle cx="932.64" cy="333.91" r="3.85" fill="#828282"/>
<circle cx="948.5" cy="334.7" r="3.85" fill="#828282"/>
<circle cx="923.92" cy="337.08" r="3.85" fill="#828282"/>
<circle cx="965.15" cy="338.98" r="3.85" fill="#828282"/>
<circle cx="956.43" cy="337.87" r="3.85" fill="#828282"/>
<circle cx="940.57" cy="335.81" r="3.85" fill="#828282"/>
<circle cx="935.24" cy="320.24" r="3.85" fill="#828282"/>
<circle cx="934.75" cy="326.97" r="3.85" fill="#828282"/>
<circle cx="918.87" cy="341.41" r="3.85" fill="#828282"/>
<circle cx="928.5" cy="342.37" r="3.85" fill="#828282"/>
<circle cx="944.86" cy="344.3" r="3.85" fill="#828282"/>
<circle cx="952.56" cy="346.7" r="3.85" fill="#828282"/>
<circle cx="965.07" cy="344.78" r="3.85" fill="#828282"/>
<circle cx="969.88" cy="342.37" r="3.85" fill="#828282"/>
<circle cx="981.43" cy="340.45" r="3.85" fill="#828282"/>
<circle cx="985.28" cy="340.64" r="3.85" fill="#828282"/>
<circle cx="904.44" cy="338.52" r="3.85" fill="#828282"/>
<circle cx="908.29" cy="337.56" r="3.85" fill="#828282"/>
<circle cx="957.37" cy="341.41" r="3.85" fill="#828282"/>
<circle cx="938.12" cy="340.45" r="3.85" fill="#828282"/>
<line x1="925" y1="331" x2="964" y2="331" stroke="#444" stroke-width="1.2"/>
<line x1="926" y1="334.2" x2="963" y2="334.2" stroke="#444" stroke-width="1.2"/>
<line x1="944.5" y1="331" x2="944.5" y2="334.2" stroke="#444" stroke-width="1.2"/>
<line x1="901.4" y1="332.6" x2="988.6" y2="332.6" stroke="#000" stroke-width="2"/>
<circle cx="813.4" cy="202.2" r="3.85" fill="#000"/>
<circle cx="778.53" cy="319.64" r="3.85" fill="#000"/>
<circle cx="778.53" cy="332.64" r="3.85" fill="#000"/>
<circle cx="792.64" cy="320.43" r="3.85" fill="#000"/>
<circle cx="792.64" cy="328.83" r="3.85" fill="#000"/>
<circle cx="792.64" cy="341.52" r="3.85" fill="#000"/>
<circle cx="806.59" cy="313.3" r="3.85" fill="#000"/>
<circle cx="806.59" cy="326.46" r="3.85" fill="#000"/>
<circle cx="806.59" cy="335.02" r="3.85" fill="#000"/>
<circle cx="820.55" cy="324.4" r="3.85" fill="#000"/>
<circle cx="820.55" cy="331.21" r="3.85" fill="#000"/>
<circle cx="820.55" cy="339.14" r="3.85" fill="#000"/>
<circle cx="834.5" cy="322.81" r="3.85" fill="#000"/>
<circle cx="834.5" cy="335.18" r="3.85" fill="#000"/>
<circle cx="848.77" cy="316.15" r="3.85" fill="#000"/>
<circle cx="848.77" cy="329.94" r="3.85" fill="#000"/>
<line x1="791.5" y1="311.7" x2="835.1" y2="311.7" stroke="#444" stroke-width="1.2"/>
<line x1="792.5" y1="327.6" x2="834.1" y2="327.6" stroke="#444" stroke-width="1.2"/>
<line x1="812.9" y1="311.7" x2="812.9" y2="327.6" stroke="#444" stroke-width="1.2"/>
<line x1="769.8" y1="320" x2="857.3" y2="320" stroke="#000" stroke-width="2"/>
<text transform="translate(818.5 370.5) rotate(-45)" font-size="13.3" font-weight="bold" text-anchor="end">KMT2Ar</text>
<text transform="translate(947.6 369.5) rotate(-45)" font-size="13" font-weight="bold" text-anchor="end">other</text>
<line x1="1099.6" y1="176.5" x2="1099.6" y2="352.9" stroke="#000" stroke-width="1.7"/>
<line x1="1095.5" y1="352.1" x2="1363" y2="352.1" stroke="#000" stroke-width="1.7"/>
<line x1="1093.6" y1="177.3" x2="1099.6" y2="177.3" stroke="#000" stroke-width="1.6"/>
<text x="1092.2" y="182.05" font-size="13.35" font-weight="bold" text-anchor="end">250000</text>
<line x1="1093.6" y1="212.25" x2="1099.6" y2="212.25" stroke="#000" stroke-width="1.6"/>
<text x="1092.2" y="217" font-size="13.35" font-weight="bold" text-anchor="end">200000</text>
<line x1="1093.6" y1="247.2" x2="1099.6" y2="247.2" stroke="#000" stroke-width="1.6"/>
<text x="1092.2" y="251.95" font-size="13.35" font-weight="bold" text-anchor="end">150000</text>
<line x1="1093.6" y1="282.15" x2="1099.6" y2="282.15" stroke="#000" stroke-width="1.6"/>
<text x="1092.2" y="286.9" font-size="13.35" font-weight="bold" text-anchor="end">100000</text>
<line x1="1093.6" y1="317.1" x2="1099.6" y2="317.1" stroke="#000" stroke-width="1.6"/>
<text x="1092.2" y="321.85" font-size="13.35" font-weight="bold" text-anchor="end">50000</text>
<line x1="1093.6" y1="352.05" x2="1099.6" y2="352.05" stroke="#000" stroke-width="1.6"/>
<text x="1092.2" y="356.8" font-size="13.35" font-weight="bold" text-anchor="end">0</text>
<line x1="1165" y1="352.1" x2="1165" y2="358.1" stroke="#000" stroke-width="1.6"/>
<line x1="1296.4" y1="352.1" x2="1296.4" y2="358.1" stroke="#000" stroke-width="1.6"/>
<text x="1231.2" y="156.2" font-size="16.6" font-weight="bold" text-anchor="middle">BCL-2 S70</text>
<text transform="translate(1042 265.6) rotate(-90)" font-size="14.7" font-weight="bold" text-anchor="middle">A.U.</text>
<line x1="1160.3" y1="188" x2="1293.2" y2="188" stroke="#4a4a4a" stroke-width="1.3"/>
<text x="1226.8" y="187.3" font-size="10.5" font-weight="bold" text-anchor="middle" fill="#222" letter-spacing="0.6">**</text>
<circle cx="1297.2" cy="213.4" r="3.85" fill="#828282"/>
<circle cx="1297.2" cy="224.5" r="3.85" fill="#828282"/>
<circle cx="1297.2" cy="254.8" r="3.85" fill="#828282"/>
<circle cx="1297.2" cy="273.6" r="3.85" fill="#828282"/>
<circle cx="1296.91" cy="282.38" r="3.85" fill="#828282"/>
<circle cx="1304.84" cy="283.96" r="3.85" fill="#828282"/>
<circle cx="1312.77" cy="283.96" r="3.85" fill="#828282"/>
<circle cx="1321.01" cy="287.45" r="3.85" fill="#828282"/>
<circle cx="1272.65" cy="287.93" r="3.85" fill="#828282"/>
<circle cx="1280.74" cy="289.51" r="3.85" fill="#828282"/>
<circle cx="1288.83" cy="290.31" r="3.85" fill="#828282"/>
<circle cx="1296.91" cy="290.78" r="3.85" fill="#828282"/>
<circle cx="1304.84" cy="291.1" r="3.85" fill="#828282"/>
<circle cx="1313.24" cy="294.59" r="3.85" fill="#828282"/>
<circle cx="1272.65" cy="300.29" r="3.85" fill="#828282"/>
<circle cx="1329.1" cy="301.09" r="3.85" fill="#828282"/>
<circle cx="1256.48" cy="307.75" r="3.85" fill="#828282"/>
<circle cx="1264.41" cy="309.02" r="3.85" fill="#828282"/>
<circle cx="1272.65" cy="307.75" r="3.85" fill="#828282"/>
<circle cx="1280.74" cy="311.71" r="3.85" fill="#828282"/>
<circle cx="1288.83" cy="307.75" r="3.85" fill="#828282"/>
<circle cx="1288.83" cy="314.88" r="3.85" fill="#828282"/>
<circle cx="1296.91" cy="312.98" r="3.85" fill="#828282"/>
<circle cx="1304.84" cy="310.13" r="3.85" fill="#828282"/>
<circle cx="1313.24" cy="309.02" r="3.85" fill="#828282"/>
<circle cx="1321.01" cy="308.54" r="3.85" fill="#828282"/>
<circle cx="1329.1" cy="309.33" r="3.85" fill="#828282"/>
<circle cx="1337.34" cy="309.02" r="3.85" fill="#828282"/>
<circle cx="1264.41" cy="320.43" r="3.85" fill="#828282"/>
<circle cx="1304.84" cy="322.02" r="3.85" fill="#828282"/>
<circle cx="1321.01" cy="320.91" r="3.85" fill="#828282"/>
<circle cx="1329.1" cy="322.02" r="3.85" fill="#828282"/>
<circle cx="1256.48" cy="327.57" r="3.85" fill="#828282"/>
<circle cx="1272.65" cy="325.98" r="3.85" fill="#828282"/>
<circle cx="1280.74" cy="324.87" r="3.85" fill="#828282"/>
<circle cx="1296.91" cy="325.98" r="3.85" fill="#828282"/>
<circle cx="1304.84" cy="328.36" r="3.85" fill="#828282"/>
<circle cx="1321.01" cy="328.36" r="3.85" fill="#828282"/>
<circle cx="1337.34" cy="327.09" r="3.85" fill="#828282"/>
<circle cx="1264.41" cy="330.74" r="3.85" fill="#828282"/>
<circle cx="1272.65" cy="332.8" r="3.85" fill="#828282"/>
<circle cx="1280.74" cy="332.01" r="3.85" fill="#828282"/>
<circle cx="1296.91" cy="333.12" r="3.85" fill="#828282"/>
<circle cx="1329.1" cy="333.91" r="3.85" fill="#828282"/>
<circle cx="1337.34" cy="333.91" r="3.85" fill="#828282"/>
<circle cx="1256.48" cy="335.49" r="3.85" fill="#828282"/>
<circle cx="1288.83" cy="337.87" r="3.85" fill="#828282"/>
<circle cx="1304.84" cy="335.81" r="3.85" fill="#828282"/>
<circle cx="1313.24" cy="335.18" r="3.85" fill="#828282"/>
<circle cx="1321.01" cy="337.08" r="3.85" fill="#828282"/>
<line x1="1274.7" y1="304.6" x2="1318.3" y2="304.6" stroke="#444" stroke-width="1.2"/>
<line x1="1275.7" y1="309.2" x2="1317.3" y2="309.2" stroke="#444" stroke-width="1.2"/>
<line x1="1296.4" y1="304.6" x2="1296.4" y2="309.2" stroke="#444" stroke-width="1.2"/>
<line x1="1253.3" y1="308.5" x2="1340.8" y2="308.5" stroke="#000" stroke-width="2"/>
<circle cx="1165.7" cy="222" r="3.85" fill="#000"/>
<circle cx="1144.6" cy="252.8" r="3.85" fill="#000"/>
<circle cx="1172.5" cy="254.8" r="3.85" fill="#000"/>
<circle cx="1158.6" cy="259.8" r="3.85" fill="#000"/>
<circle cx="1144.6" cy="280.4" r="3.85" fill="#000"/>
<circle cx="1172.5" cy="279.8" r="3.85" fill="#000"/>
<circle cx="1186.3" cy="283.6" r="3.85" fill="#000"/>
<circle cx="1158.6" cy="286.1" r="3.85" fill="#000"/>
<circle cx="1151.4" cy="297.7" r="3.85" fill="#000"/>
<circle cx="1165.4" cy="298" r="3.85" fill="#000"/>
<circle cx="1179.7" cy="297.6" r="3.85" fill="#000"/>
<circle cx="1144.4" cy="312.5" r="3.85" fill="#000"/>
<circle cx="1172.4" cy="310.1" r="3.85" fill="#000"/>
<circle cx="1158.5" cy="314.1" r="3.85" fill="#000"/>
<circle cx="1158.5" cy="327.1" r="3.85" fill="#000"/>
<circle cx="1172.4" cy="323.6" r="3.85" fill="#000"/>
<line x1="1144.5" y1="279.8" x2="1187.5" y2="279.8" stroke="#444" stroke-width="1.2"/>
<line x1="1145.5" y1="294.5" x2="1186.5" y2="294.5" stroke="#444" stroke-width="1.2"/>
<line x1="1165.3" y1="279.8" x2="1165.3" y2="294.5" stroke="#444" stroke-width="1.2"/>
<line x1="1122" y1="287.5" x2="1209.4" y2="287.5" stroke="#000" stroke-width="2"/>
<text transform="translate(1170.5 370) rotate(-45)" font-size="13.3" font-weight="bold" text-anchor="end">KMT2Ar</text>
<text transform="translate(1299.6 369) rotate(-45)" font-size="13" font-weight="bold" text-anchor="end">other</text>
<line x1="1453.5" y1="174.6" x2="1453.5" y2="351.4" stroke="#000" stroke-width="1.7"/>
<line x1="1448.7" y1="350.6" x2="1717.2" y2="350.6" stroke="#000" stroke-width="1.7"/>
<line x1="1447.5" y1="175.4" x2="1453.5" y2="175.4" stroke="#000" stroke-width="1.6"/>
<text x="1446.1" y="180.15" font-size="13.35" font-weight="bold" text-anchor="end">300000</text>
<line x1="1447.5" y1="233.8" x2="1453.5" y2="233.8" stroke="#000" stroke-width="1.6"/>
<text x="1446.1" y="238.55" font-size="13.35" font-weight="bold" text-anchor="end">200000</text>
<line x1="1447.5" y1="292.2" x2="1453.5" y2="292.2" stroke="#000" stroke-width="1.6"/>
<text x="1446.1" y="296.95" font-size="13.35" font-weight="bold" text-anchor="end">100000</text>
<line x1="1447.5" y1="350.6" x2="1453.5" y2="350.6" stroke="#000" stroke-width="1.6"/>
<text x="1446.1" y="355.35" font-size="13.35" font-weight="bold" text-anchor="end">0</text>
<line x1="1519.3" y1="350.6" x2="1519.3" y2="356.6" stroke="#000" stroke-width="1.6"/>
<line x1="1650.6" y1="350.6" x2="1650.6" y2="356.6" stroke="#000" stroke-width="1.6"/>
<text x="1584.3" y="154.3" font-size="16.6" font-weight="bold" text-anchor="middle">MCL-1</text>
<text transform="translate(1396 263.6) rotate(-90)" font-size="14.7" font-weight="bold" text-anchor="middle">A.U.</text>
<line x1="1514.2" y1="186.4" x2="1647" y2="186.4" stroke="#4a4a4a" stroke-width="1.3"/>
<text x="1580.8" y="185.8" font-size="10.5" font-weight="bold" text-anchor="middle" fill="#222" letter-spacing="0.6">***</text>
<circle cx="1651.1" cy="202.2" r="3.85" fill="#828282"/>
<circle cx="1651.1" cy="228.2" r="3.85" fill="#828282"/>
<circle cx="1651.1" cy="242.8" r="3.85" fill="#828282"/>
<circle cx="1661.98" cy="264.27" r="3.85" fill="#828282"/>
<circle cx="1669.43" cy="263.48" r="3.85" fill="#828282"/>
<circle cx="1632.64" cy="271.72" r="3.85" fill="#828282"/>
<circle cx="1640.1" cy="269.34" r="3.85" fill="#828282"/>
<circle cx="1654.52" cy="269.34" r="3.85" fill="#828282"/>
<circle cx="1661.98" cy="273.78" r="3.85" fill="#828282"/>
<circle cx="1669.43" cy="271.72" r="3.85" fill="#828282"/>
<circle cx="1654.52" cy="276.16" r="3.85" fill="#828282"/>
<circle cx="1669.43" cy="280.92" r="3.85" fill="#828282"/>
<circle cx="1677.04" cy="279.02" r="3.85" fill="#828282"/>
<circle cx="1625.19" cy="284.88" r="3.85" fill="#828282"/>
<circle cx="1632.64" cy="283.3" r="3.85" fill="#828282"/>
<circle cx="1640.1" cy="282.19" r="3.85" fill="#828282"/>
<circle cx="1647.39" cy="284.09" r="3.85" fill="#828282"/>
<circle cx="1654.52" cy="283.77" r="3.85" fill="#828282"/>
<circle cx="1661.98" cy="284.09" r="3.85" fill="#828282"/>
<circle cx="1677.04" cy="287.74" r="3.85" fill="#828282"/>
<circle cx="1640.1" cy="290.43" r="3.85" fill="#828282"/>
<circle cx="1654.52" cy="291.54" r="3.85" fill="#828282"/>
<circle cx="1669.43" cy="288.85" r="3.85" fill="#828282"/>
<circle cx="1625.19" cy="296.3" r="3.85" fill="#828282"/>
<circle cx="1632.64" cy="298.04" r="3.85" fill="#828282"/>
<circle cx="1625.19" cy="304.7" r="3.85" fill="#828282"/>
<circle cx="1632.64" cy="306.29" r="3.85" fill="#828282"/>
<circle cx="1640.1" cy="305.02" r="3.85" fill="#828282"/>
<circle cx="1647.39" cy="302.32" r="3.85" fill="#828282"/>
<circle cx="1661.98" cy="299.94" r="3.85" fill="#828282"/>
<circle cx="1677.04" cy="301.53" r="3.85" fill="#828282"/>
<circle cx="1684.17" cy="304.23" r="3.85" fill="#828282"/>
<circle cx="1691.31" cy="301.21" r="3.85" fill="#828282"/>
<circle cx="1617.9" cy="308.66" r="3.85" fill="#828282"/>
<circle cx="1640.1" cy="312.31" r="3.85" fill="#828282"/>
<circle cx="1647.39" cy="309.93" r="3.85" fill="#828282"/>
<circle cx="1654.52" cy="308.19" r="3.85" fill="#828282"/>
<circle cx="1661.98" cy="307.87" r="3.85" fill="#828282"/>
<circle cx="1669.43" cy="305.97" r="3.85" fill="#828282"/>
<circle cx="1677.04" cy="309.93" r="3.85" fill="#828282"/>
<circle cx="1691.31" cy="308.66" r="3.85" fill="#828282"/>
<circle cx="1632.64" cy="313.42" r="3.85" fill="#828282"/>
<circle cx="1661.98" cy="314.69" r="3.85" fill="#828282"/>
<circle cx="1669.43" cy="313.1" r="3.85" fill="#828282"/>
<circle cx="1647.39" cy="317.86" r="3.85" fill="#828282"/>
<circle cx="1654.52" cy="323.73" r="3.85" fill="#828282"/>
<circle cx="1632.64" cy="328.8" r="3.85" fill="#828282"/>
<circle cx="1647.39" cy="328.8" r="3.85" fill="#828282"/>
<circle cx="1661.98" cy="331.18" r="3.85" fill="#828282"/>
<circle cx="1669.43" cy="328.01" r="3.85" fill="#828282"/>
<line x1="1628.7" y1="289.1" x2="1673" y2="289.1" stroke="#444" stroke-width="1.2"/>
<line x1="1629.7" y1="293.4" x2="1672" y2="293.4" stroke="#444" stroke-width="1.2"/>
<line x1="1650.6" y1="289.1" x2="1650.6" y2="293.4" stroke="#444" stroke-width="1.2"/>
<line x1="1607.7" y1="292.8" x2="1695" y2="292.8" stroke="#000" stroke-width="2"/>
<circle cx="1519.6" cy="212.4" r="3.85" fill="#000"/>
<circle cx="1512.8" cy="226.8" r="3.85" fill="#000"/>
<circle cx="1526.9" cy="225.3" r="3.85" fill="#000"/>
<circle cx="1519.6" cy="239.9" r="3.85" fill="#000"/>
<circle cx="1547.9" cy="254.4" r="3.85" fill="#000"/>
<circle cx="1505.7" cy="256.9" r="3.85" fill="#000"/>
<circle cx="1491.7" cy="262.5" r="3.85" fill="#000"/>
<circle cx="1519.6" cy="263" r="3.85" fill="#000"/>
<circle cx="1505.7" cy="267.8" r="3.85" fill="#000"/>
<circle cx="1533.6" cy="267.1" r="3.85" fill="#000"/>
<circle cx="1547.9" cy="266.5" r="3.85" fill="#000"/>
<circle cx="1519.6" cy="271.3" r="3.85" fill="#000"/>
<circle cx="1519.6" cy="279.4" r="3.85" fill="#000"/>
<circle cx="1519.6" cy="300.4" r="3.85" fill="#000"/>
<circle cx="1533.5" cy="305.5" r="3.85" fill="#000"/>
<circle cx="1505.6" cy="309.1" r="3.85" fill="#000"/>
<line x1="1497.8" y1="255.7" x2="1541.3" y2="255.7" stroke="#444" stroke-width="1.2"/>
<line x1="1498.8" y1="269.8" x2="1540.3" y2="269.8" stroke="#444" stroke-width="1.2"/>
<line x1="1519.6" y1="255.7" x2="1519.6" y2="269.8" stroke="#444" stroke-width="1.2"/>
<line x1="1475.9" y1="262.6" x2="1563.3" y2="262.6" stroke="#000" stroke-width="2"/>
<text transform="translate(1525 368.5) rotate(-45)" font-size="13.3" font-weight="bold" text-anchor="end">KMT2Ar</text>
<text transform="translate(1654.1 367.5) rotate(-45)" font-size="13" font-weight="bold" text-anchor="end">other</text>
</g>
<g id="panelB">
<text x="4.1" y="512.1" font-size="37.7" font-weight="bold">B</text>
<line x1="105.2" y1="533.75" x2="105.2" y2="606.85" stroke="#000" stroke-width="2.3"/>
<line x1="96.6" y1="534.9" x2="105.2" y2="534.9" stroke="#000" stroke-width="2.1"/>
<line x1="96.6" y1="569.9" x2="105.2" y2="569.9" stroke="#000" stroke-width="2.1"/>
<line x1="98.6" y1="605.7" x2="111.4" y2="605.7" stroke="#000" stroke-width="2.1"/>
<line x1="105.2" y1="624.05" x2="105.2" y2="789.15" stroke="#000" stroke-width="2.3"/>
<line x1="97.8" y1="625.2" x2="111.4" y2="625.2" stroke="#000" stroke-width="2.1"/>
<line x1="96.6" y1="665.9" x2="105.2" y2="665.9" stroke="#000" stroke-width="2.1"/>
<line x1="96.6" y1="706.6" x2="105.2" y2="706.6" stroke="#000" stroke-width="2.1"/>
<line x1="96.6" y1="747.3" x2="105.2" y2="747.3" stroke="#000" stroke-width="2.1"/>
<line x1="96.6" y1="788" x2="485.2" y2="788" stroke="#000" stroke-width="2.3"/>
<line x1="105.2" y1="788" x2="105.2" y2="795.5" stroke="#000" stroke-width="2.1"/>
<line x1="231.4" y1="788" x2="231.4" y2="795.5" stroke="#000" stroke-width="2.1"/>
<line x1="357.6" y1="788" x2="357.6" y2="795.5" stroke="#000" stroke-width="2.1"/>
<line x1="483.8" y1="788" x2="483.8" y2="795.5" stroke="#000" stroke-width="2.1"/>
<text x="94.6" y="541.1" font-size="19" font-weight="bold" text-anchor="end">800000</text>
<text x="94.6" y="576.1" font-size="19" font-weight="bold" text-anchor="end">700000</text>
<text x="94.6" y="611.9" font-size="19" font-weight="bold" text-anchor="end">600000</text>
<text x="94.6" y="631.4" font-size="19" font-weight="bold" text-anchor="end">400000</text>
<text x="94.6" y="672.1" font-size="19" font-weight="bold" text-anchor="end">300000</text>
<text x="94.6" y="712.8" font-size="19" font-weight="bold" text-anchor="end">200000</text>
<text x="94.6" y="753.5" font-size="19" font-weight="bold" text-anchor="end">100000</text>
<text x="94.6" y="794.2" font-size="19" font-weight="bold" text-anchor="end">0</text>
<text x="105.2" y="815.6" font-size="18.5" font-weight="bold" text-anchor="middle">0</text>
<text x="231.4" y="815.6" font-size="18.5" font-weight="bold" text-anchor="middle">100000</text>
<text x="357.6" y="815.6" font-size="18.5" font-weight="bold" text-anchor="middle">200000</text>
<text x="483.8" y="815.6" font-size="18.5" font-weight="bold" text-anchor="middle">300000</text>
<text x="113.9" y="555.1" font-size="22.3">R=0.76</text>
<text x="113.9" y="581.7" font-size="22.3">p&lt;0.0001</text>
<text x="295.3" y="843.7" font-size="20.6" text-anchor="middle" fill="#222">BCL-2 S70</text>
<text transform="translate(18.9 661.5) rotate(-90)" font-size="20.7" text-anchor="middle" fill="#222">BCL-2</text>
<rect x="268.3" y="567.8" width="11" height="11" fill="#000"/>
<rect x="227.2" y="661.8" width="11" height="11" fill="#000"/>
<rect x="351.4" y="697.7" width="11" height="11" fill="#000"/>
<rect x="336.5" y="708.1" width="11" height="11" fill="#000"/>
<rect x="331.7" y="717.4" width="11" height="11" fill="#000"/>
<rect x="133.5" y="698.17" width="11" height="11" fill="#000"/>
<rect x="143.01" y="706.5" width="11" height="11" fill="#000"/>
<rect x="128.74" y="744.9" width="11" height="11" fill="#000"/>
<rect x="242.06" y="706.5" width="11" height="11" fill="#000"/>
<rect x="231" y="713.04" width="11" height="11" fill="#000"/>
<rect x="216.13" y="716.01" width="11" height="11" fill="#000"/>
<rect x="220.3" y="722.55" width="11" height="11" fill="#000"/>
<rect x="229.81" y="727.9" width="11" height="11" fill="#000"/>
<rect x="217.32" y="726.12" width="11" height="11" fill="#000"/>
<rect x="221.72" y="730.64" width="11" height="11" fill="#000"/>
<rect x="223.86" y="736.82" width="11" height="11" fill="#000"/>
<rect x="181.06" y="723.14" width="11" height="11" fill="#000"/>
<rect x="192" y="720.77" width="11" height="11" fill="#000"/>
<rect x="198.89" y="732.06" width="11" height="11" fill="#000"/>
<rect x="194.14" y="738.6" width="11" height="11" fill="#000"/>
<rect x="198.89" y="743.36" width="11" height="11" fill="#000"/>
<rect x="212.57" y="745.14" width="11" height="11" fill="#000"/>
<rect x="211.38" y="750.49" width="11" height="11" fill="#000"/>
<rect x="204.84" y="742.76" width="11" height="11" fill="#000"/>
<rect x="155.49" y="739.79" width="11" height="11" fill="#000"/>
<rect x="156.68" y="748.71" width="11" height="11" fill="#000"/>
<rect x="154.9" y="754.65" width="11" height="11" fill="#000"/>
<rect x="172.73" y="741.57" width="11" height="11" fill="#000"/>
<rect x="179.87" y="739.2" width="11" height="11" fill="#000"/>
<rect x="179.87" y="746.33" width="11" height="11" fill="#000"/>
<rect x="172.73" y="748.71" width="11" height="11" fill="#000"/>
<rect x="167.98" y="755.84" width="11" height="11" fill="#000"/>
<rect x="179.87" y="755.84" width="11" height="11" fill="#000"/>
<rect x="169.17" y="759.41" width="11" height="11" fill="#000"/>
<rect x="179.27" y="760.6" width="11" height="11" fill="#000"/>
<rect x="145.39" y="757.03" width="11" height="11" fill="#000"/>
<rect x="151.33" y="758.22" width="11" height="11" fill="#000"/>
<rect x="143.01" y="762.98" width="11" height="11" fill="#000"/>
<rect x="137.06" y="760.6" width="11" height="11" fill="#000"/>
<rect x="129.93" y="761.79" width="11" height="11" fill="#000"/>
<rect x="132.31" y="767.73" width="11" height="11" fill="#000"/>
<rect x="145.39" y="766.55" width="11" height="11" fill="#000"/>
<rect x="126.36" y="771.9" width="11" height="11" fill="#000"/>
<rect x="135.87" y="770.71" width="11" height="11" fill="#000"/>
<rect x="277.13" y="719.58" width="11" height="11" fill="#000"/>
<rect x="280.94" y="725.52" width="11" height="11" fill="#000"/>
<rect x="277.13" y="739.79" width="11" height="11" fill="#000"/>
<line x1="637.7" y1="536.05" x2="637.7" y2="608.35" stroke="#000" stroke-width="2.3"/>
<line x1="629.1" y1="537.2" x2="637.7" y2="537.2" stroke="#000" stroke-width="2.1"/>
<line x1="629.1" y1="572.3" x2="637.7" y2="572.3" stroke="#000" stroke-width="2.1"/>
<line x1="631.1" y1="607.2" x2="643.9" y2="607.2" stroke="#000" stroke-width="2.1"/>
<line x1="637.7" y1="625.05" x2="637.7" y2="787.75" stroke="#000" stroke-width="2.3"/>
<line x1="630.3" y1="626.2" x2="643.9" y2="626.2" stroke="#000" stroke-width="2.1"/>
<line x1="629.1" y1="666.3" x2="637.7" y2="666.3" stroke="#000" stroke-width="2.1"/>
<line x1="629.1" y1="706.4" x2="637.7" y2="706.4" stroke="#000" stroke-width="2.1"/>
<line x1="629.1" y1="746.5" x2="637.7" y2="746.5" stroke="#000" stroke-width="2.1"/>
<line x1="629.1" y1="786.6" x2="1011.4" y2="786.6" stroke="#000" stroke-width="2.3"/>
<line x1="637.7" y1="786.6" x2="637.7" y2="794.1" stroke="#000" stroke-width="2.1"/>
<line x1="761.8" y1="786.6" x2="761.8" y2="794.1" stroke="#000" stroke-width="2.1"/>
<line x1="885.9" y1="786.6" x2="885.9" y2="794.1" stroke="#000" stroke-width="2.1"/>
<line x1="1010" y1="786.6" x2="1010" y2="794.1" stroke="#000" stroke-width="2.1"/>
<text x="627.1" y="543.4" font-size="18.9" font-weight="bold" text-anchor="end">800000</text>
<text x="627.1" y="578.5" font-size="18.9" font-weight="bold" text-anchor="end">700000</text>
<text x="627.1" y="613.4" font-size="18.9" font-weight="bold" text-anchor="end">600000</text>
<text x="627.1" y="632.4" font-size="18.9" font-weight="bold" text-anchor="end">400000</text>
<text x="627.1" y="672.5" font-size="18.9" font-weight="bold" text-anchor="end">300000</text>
<text x="627.1" y="712.6" font-size="18.9" font-weight="bold" text-anchor="end">200000</text>
<text x="627.1" y="752.7" font-size="18.9" font-weight="bold" text-anchor="end">100000</text>
<text x="627.1" y="792.8" font-size="18.9" font-weight="bold" text-anchor="end">0</text>
<text x="637.7" y="814.4" font-size="18.4" font-weight="bold" text-anchor="middle">0</text>
<text x="761.8" y="814.4" font-size="18.4" font-weight="bold" text-anchor="middle">100000</text>
<text x="885.9" y="814.4" font-size="18.4" font-weight="bold" text-anchor="middle">200000</text>
<text x="1010" y="814.4" font-size="18.4" font-weight="bold" text-anchor="middle">300000</text>
<text x="645.8" y="557.9" font-size="22.3">R=0.81</text>
<text x="645.8" y="584.1" font-size="22.3">p&lt;0.0001</text>
<text x="823.5" y="842.1" font-size="19.2" text-anchor="middle" fill="#222">MCL-1</text>
<text transform="translate(556.3 662.5) rotate(-90)" font-size="20.7" text-anchor="middle" fill="#222">BCL-2</text>
<rect x="900.2" y="569.6" width="11" height="11" fill="#000"/>
<rect x="949.8" y="662.2" width="11" height="11" fill="#000"/>
<rect x="690.35" y="698.55" width="11" height="11" fill="#000"/>
<rect x="675.91" y="744.18" width="11" height="11" fill="#000"/>
<rect x="679.37" y="765.36" width="11" height="11" fill="#000"/>
<rect x="681.3" y="770.18" width="11" height="11" fill="#000"/>
<rect x="774.67" y="706.06" width="11" height="11" fill="#000"/>
<rect x="797.78" y="706.06" width="11" height="11" fill="#000"/>
<rect x="786.23" y="716.27" width="11" height="11" fill="#000"/>
<rect x="781.99" y="720.7" width="11" height="11" fill="#000"/>
<rect x="760.23" y="723.39" width="11" height="11" fill="#000"/>
<rect x="801.63" y="716.27" width="11" height="11" fill="#000"/>
<rect x="810.29" y="720.12" width="11" height="11" fill="#000"/>
<rect x="818.96" y="725.89" width="11" height="11" fill="#000"/>
<rect x="832.43" y="726.86" width="11" height="11" fill="#000"/>
<rect x="838.59" y="731.67" width="11" height="11" fill="#000"/>
<rect x="801.63" y="730.71" width="11" height="11" fill="#000"/>
<rect x="815.1" y="736.48" width="11" height="11" fill="#000"/>
<rect x="820.88" y="738.41" width="11" height="11" fill="#000"/>
<rect x="792" y="739.95" width="11" height="11" fill="#000"/>
<rect x="767.93" y="738.41" width="11" height="11" fill="#000"/>
<rect x="778.52" y="738.41" width="11" height="11" fill="#000"/>
<rect x="774.67" y="742.26" width="11" height="11" fill="#000"/>
<rect x="763.12" y="747.07" width="11" height="11" fill="#000"/>
<rect x="770.82" y="749.96" width="11" height="11" fill="#000"/>
<rect x="803.55" y="742.26" width="11" height="11" fill="#000"/>
<rect x="806.44" y="746.11" width="11" height="11" fill="#000"/>
<rect x="817.99" y="742.26" width="11" height="11" fill="#000"/>
<rect x="774.67" y="760.55" width="11" height="11" fill="#000"/>
<rect x="785.26" y="759.59" width="11" height="11" fill="#000"/>
<rect x="741.94" y="742.26" width="11" height="11" fill="#000"/>
<rect x="727.5" y="744.18" width="11" height="11" fill="#000"/>
<rect x="721.73" y="747.07" width="11" height="11" fill="#000"/>
<rect x="737.13" y="749" width="11" height="11" fill="#000"/>
<rect x="748.68" y="749.96" width="11" height="11" fill="#000"/>
<rect x="724.62" y="753.81" width="11" height="11" fill="#000"/>
<rect x="734.24" y="755.74" width="11" height="11" fill="#000"/>
<rect x="718.84" y="756.7" width="11" height="11" fill="#000"/>
<rect x="709.21" y="757.66" width="11" height="11" fill="#000"/>
<rect x="739.06" y="759.59" width="11" height="11" fill="#000"/>
<rect x="703.44" y="762.47" width="11" height="11" fill="#000"/>
<rect x="714.03" y="763.44" width="11" height="11" fill="#000"/>
<rect x="732.32" y="764.4" width="11" height="11" fill="#000"/>
<rect x="722.69" y="760.55" width="11" height="11" fill="#000"/>
<rect x="869.98" y="721.08" width="11" height="11" fill="#000"/>
<rect x="862.66" y="739.37" width="11" height="11" fill="#000"/>
<rect x="895" y="697.59" width="11" height="11" fill="#000"/>
<rect x="897.31" y="707.99" width="11" height="11" fill="#000"/>
<rect x="928.31" y="712.99" width="11" height="11" fill="#000"/>
</g>
<g id="panelC">
<text x="1077.3" y="511.5" font-size="37.7" font-weight="bold">C</text>
<line x1="1154.4" y1="736.85" x2="1502.6" y2="736.85" stroke="#333" stroke-width="1.5" stroke-dasharray="2.6 3.5"/>
<line x1="1154.4" y1="688.3" x2="1502.6" y2="688.3" stroke="#333" stroke-width="1.5" stroke-dasharray="2.6 3.5"/>
<line x1="1154.4" y1="639.75" x2="1502.6" y2="639.75" stroke="#333" stroke-width="1.5" stroke-dasharray="2.6 3.5"/>
<line x1="1154.4" y1="591.2" x2="1502.6" y2="591.2" stroke="#333" stroke-width="1.5" stroke-dasharray="2.6 3.5"/>
<line x1="1153.4" y1="550.8" x2="1153.4" y2="786.5" stroke="#000" stroke-width="2.2"/>
<line x1="1145.4" y1="785.4" x2="1505.5" y2="785.4" stroke="#000" stroke-width="2.2"/>
<line x1="1146.2" y1="785.4" x2="1153.4" y2="785.4" stroke="#000" stroke-width="2"/>
<text x="1144.4" y="791.4" font-size="17.2" font-weight="bold" text-anchor="end">0</text>
<line x1="1146.2" y1="736.85" x2="1153.4" y2="736.85" stroke="#000" stroke-width="2"/>
<text x="1144.4" y="742.85" font-size="17.2" font-weight="bold" text-anchor="end">25</text>
<line x1="1146.2" y1="688.3" x2="1153.4" y2="688.3" stroke="#000" stroke-width="2"/>
<text x="1144.4" y="694.3" font-size="17.2" font-weight="bold" text-anchor="end">50</text>
<line x1="1146.2" y1="639.75" x2="1153.4" y2="639.75" stroke="#000" stroke-width="2"/>
<text x="1144.4" y="645.75" font-size="17.2" font-weight="bold" text-anchor="end">75</text>
<line x1="1146.2" y1="591.2" x2="1153.4" y2="591.2" stroke="#000" stroke-width="2"/>
<text x="1144.4" y="597.2" font-size="17.2" font-weight="bold" text-anchor="end">100</text>
<line x1="1173.3" y1="785.4" x2="1173.3" y2="792.9" stroke="#000" stroke-width="2"/>
<text transform="translate(1177.7 808.1) rotate(-45)" font-size="16.6" font-weight="bold" text-anchor="end">0</text>
<line x1="1212.38" y1="785.4" x2="1212.38" y2="792.9" stroke="#000" stroke-width="2"/>
<text transform="translate(1216.78 808.1) rotate(-45)" font-size="16.6" font-weight="bold" text-anchor="end">0.0016</text>
<line x1="1251.46" y1="785.4" x2="1251.46" y2="792.9" stroke="#000" stroke-width="2"/>
<text transform="translate(1255.86 808.1) rotate(-45)" font-size="16.6" font-weight="bold" text-anchor="end">0.008</text>
<line x1="1290.54" y1="785.4" x2="1290.54" y2="792.9" stroke="#000" stroke-width="2"/>
<text transform="translate(1294.94 808.1) rotate(-45)" font-size="16.6" font-weight="bold" text-anchor="end">0.04</text>
<line x1="1329.62" y1="785.4" x2="1329.62" y2="792.9" stroke="#000" stroke-width="2"/>
<text transform="translate(1334.02 808.1) rotate(-45)" font-size="16.6" font-weight="bold" text-anchor="end">0.2</text>
<line x1="1368.7" y1="785.4" x2="1368.7" y2="792.9" stroke="#000" stroke-width="2"/>
<text transform="translate(1373.1 808.1) rotate(-45)" font-size="16.6" font-weight="bold" text-anchor="end">1</text>
<line x1="1407.78" y1="785.4" x2="1407.78" y2="792.9" stroke="#000" stroke-width="2"/>
<text transform="translate(1412.18 808.1) rotate(-45)" font-size="16.6" font-weight="bold" text-anchor="end">5</text>
<line x1="1446.86" y1="785.4" x2="1446.86" y2="792.9" stroke="#000" stroke-width="2"/>
<text transform="translate(1451.26 808.1) rotate(-45)" font-size="16.6" font-weight="bold" text-anchor="end">10</text>
<line x1="1485.94" y1="785.4" x2="1485.94" y2="792.9" stroke="#000" stroke-width="2"/>
<text transform="translate(1490.34 808.1) rotate(-45)" font-size="16.6" font-weight="bold" text-anchor="end">25</text>
<text transform="translate(1101 668) rotate(-90)" font-size="19.2" font-weight="bold" text-anchor="middle">Relative cell viability (%)</text>
<text x="1330" y="875.2" font-size="19.4" font-weight="bold" text-anchor="middle">Venetoclax (µM)</text>
<line x1="1173.3" y1="578.6" x2="1173.3" y2="604.6" stroke="#222" stroke-width="1.9"/>
<line x1="1170.7" y1="578.8" x2="1175.9" y2="578.8" stroke="#222" stroke-width="1.8"/>
<line x1="1170.9" y1="604.4" x2="1175.7" y2="604.4" stroke="#222" stroke-width="1.8"/>
<polyline fill="none" stroke="#000" stroke-width="2.3" stroke-linejoin="round" points="1173.3,591.2 1212.38,700.4 1251.46,761.1 1290.54,766.8 1329.62,767.1 1368.7,761.9 1407.78,780.6"/>
<circle cx="1212.38" cy="700.4" r="4.9" fill="#000"/>
<circle cx="1251.46" cy="761.1" r="4.9" fill="#000"/>
<circle cx="1290.54" cy="766.8" r="4.9" fill="#000"/>
<circle cx="1329.62" cy="767.1" r="4.9" fill="#000"/>
<circle cx="1368.7" cy="761.9" r="4.9" fill="#000"/>
<circle cx="1407.78" cy="780.6" r="4.9" fill="#000"/>
<polyline fill="none" stroke="#0000ff" stroke-width="2.3" stroke-linejoin="round" points="1173.3,591.2 1251.46,643.2 1290.54,688.4 1329.62,703.8 1368.7,714.7 1407.78,767.6 1446.86,785 1485.94,785"/>
<polygon points="1251.46,637.2 1245.86,646.8 1257.06,646.8" fill="#0000ff"/>
<polygon points="1290.54,682.4 1284.94,692 1296.14,692" fill="#0000ff"/>
<polygon points="1329.62,697.8 1324.02,707.4 1335.22,707.4" fill="#0000ff"/>
<polygon points="1368.7,708.7 1363.1,718.3 1374.3,718.3" fill="#0000ff"/>
<polygon points="1407.78,761.6 1402.18,771.2 1413.38,771.2" fill="#0000ff"/>
<polygon points="1446.86,779 1441.26,788.6 1452.46,788.6" fill="#0000ff"/>
<polygon points="1485.94,779 1480.34,788.6 1491.54,788.6" fill="#0000ff"/>
<polyline fill="none" stroke="#ff8000" stroke-width="2.3" stroke-linejoin="round" points="1173.3,591.2 1329.62,680.4 1368.7,685 1407.78,688.2 1446.86,754.1"/>
<rect x="1168.2" y="586.1" width="10.2" height="10.2" fill="#ff8000"/>
<rect x="1324.52" y="675.3" width="10.2" height="10.2" fill="#ff8000"/>
<rect x="1363.6" y="679.9" width="10.2" height="10.2" fill="#ff8000"/>
<rect x="1402.68" y="683.1" width="10.2" height="10.2" fill="#ff8000"/>
<rect x="1441.76" y="749" width="10.2" height="10.2" fill="#ff8000"/>
<polyline fill="none" stroke="#ff0000" stroke-width="2.3" stroke-linejoin="round" points="1173.3,591.2 1329.62,606.8 1368.7,618.2 1407.78,678.9 1446.86,755.4"/>
<circle cx="1173.3" cy="591.2" r="5.1" fill="#ff0000"/>
<circle cx="1329.62" cy="606.8" r="5.1" fill="#ff0000"/>
<circle cx="1368.7" cy="618.2" r="5.1" fill="#ff0000"/>
<circle cx="1407.78" cy="678.9" r="5.1" fill="#ff0000"/>
<circle cx="1446.86" cy="755.4" r="5.1" fill="#ff0000"/>
<line x1="1546" y1="522" x2="1768.4" y2="522" stroke="#222" stroke-width="1.1"/>
<line x1="1546" y1="554.4" x2="1768.4" y2="554.4" stroke="#222" stroke-width="1.1"/>
<line x1="1546" y1="585.8" x2="1768.4" y2="585.8" stroke="#222" stroke-width="1.1"/>
<line x1="1546" y1="617.5" x2="1768.4" y2="617.5" stroke="#222" stroke-width="1.1"/>
<line x1="1546" y1="649.6" x2="1768.4" y2="649.6" stroke="#222" stroke-width="1.1"/>
<line x1="1546" y1="681.3" x2="1768.4" y2="681.3" stroke="#222" stroke-width="1.1"/>
<line x1="1546" y1="521.5" x2="1546" y2="681.8" stroke="#222" stroke-width="1.1"/>
<line x1="1679.1" y1="521.5" x2="1679.1" y2="681.8" stroke="#222" stroke-width="1.1"/>
<line x1="1768.4" y1="521.5" x2="1768.4" y2="681.8" stroke="#222" stroke-width="1.1"/>
<text x="1722.75" y="544.9" font-size="18.6" font-weight="bold" text-anchor="middle" letter-spacing="0.4">IC50</text>
<text x="1722.75" y="575.9" font-size="19.2" text-anchor="middle">5.65</text>
<text x="1722.75" y="607.6" font-size="19.2" text-anchor="middle">5.09</text>
<text x="1722.75" y="638.9" font-size="19.2" text-anchor="middle">0.05</text>
<text x="1722.75" y="671.1" font-size="19.2" text-anchor="middle">&lt;0.0016</text>
<line x1="1558.3" y1="568" x2="1583.7" y2="568" stroke="#ff0000" stroke-width="1.6"/>
<circle cx="1570.8" cy="568" r="5" fill="#ff0000"/>
<text x="1596.6" y="573.6" font-size="18.2" fill="#111">SHI-1</text>
<line x1="1558.3" y1="599.7" x2="1583.7" y2="599.7" stroke="#ff8000" stroke-width="1.6"/>
<rect x="1566" y="594.9" width="9.6" height="9.6" fill="#ff8000"/>
<text x="1596.6" y="604.9" font-size="18.2" fill="#111">THP-1</text>
<line x1="1558.3" y1="631.4" x2="1583.7" y2="631.4" stroke="#0000ff" stroke-width="1.6"/>
<polygon points="1570.8,625.8 1565.4,635.2 1576.2,635.2" fill="#0000ff"/>
<text x="1596.6" y="636.6" font-size="18.2" fill="#111">NOMO-1</text>
<line x1="1558.3" y1="662.7" x2="1583.7" y2="662.7" stroke="#000" stroke-width="1.6"/>
<circle cx="1570.8" cy="662.7" r="5" fill="#000"/>
<text x="1596.6" y="668.1" font-size="18.2" fill="#111">HL-60</text>
</g>
</svg>
</body>
</html>
